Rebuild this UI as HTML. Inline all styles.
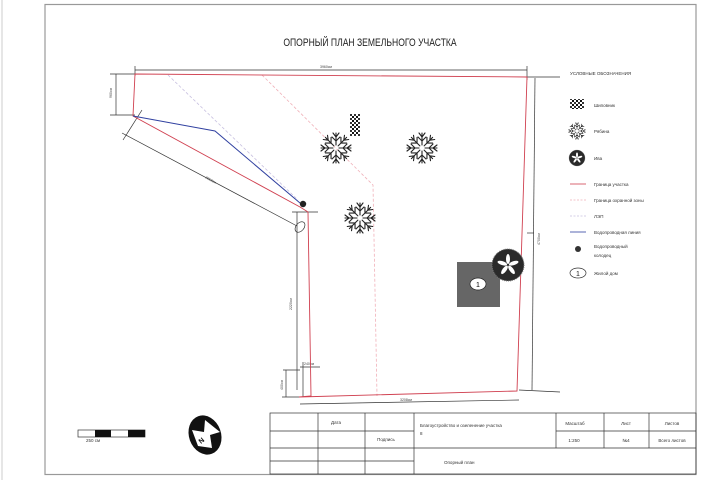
<!DOCTYPE html>
<html><head><meta charset="utf-8"><style>
html,body{margin:0;padding:0;background:#fff;}
svg{display:block;font-family:"Liberation Sans","DejaVu Sans",sans-serif;}
</style></head><body>
<svg width="720" height="480" viewBox="0 0 720 480" xmlns="http://www.w3.org/2000/svg">
<defs>
<g id="tree" stroke="#222" stroke-width="1.1" fill="none" stroke-linecap="round">
  <g id="br"><path d="M0,-3 L0,-15 M0,-7 L-4,-11 M0,-7 L4,-11 M0,-11 L-3,-15 M0,-11 L3,-15"/></g>
  <use href="#br" transform="rotate(45)"/><use href="#br" transform="rotate(90)"/>
  <use href="#br" transform="rotate(135)"/><use href="#br" transform="rotate(180)"/>
  <use href="#br" transform="rotate(225)"/><use href="#br" transform="rotate(270)"/>
  <use href="#br" transform="rotate(315)"/>
</g>
<g id="willow">
  <circle r="16" fill="#2a2a2a"/>
  <circle r="16" fill="none" stroke="#777" stroke-width="1" stroke-dasharray="1,1"/>
  <g fill="#fff"><ellipse cx="0" cy="-6" rx="2" ry="5"/><ellipse cx="0" cy="-6" rx="2" ry="5" transform="rotate(72)"/><ellipse cx="0" cy="-6" rx="2" ry="5" transform="rotate(144)"/><ellipse cx="0" cy="-6" rx="2" ry="5" transform="rotate(216)"/><ellipse cx="0" cy="-6" rx="2" ry="5" transform="rotate(288)"/></g>
</g>
<pattern id="qr" width="4" height="4" patternUnits="userSpaceOnUse"><rect width="4" height="4" fill="#fff"/><rect width="2" height="2" fill="#111"/><rect x="2" y="2" width="2" height="2" fill="#333"/></pattern>
</defs>

<line x1="2" y1="0" x2="2" y2="480" stroke="#ccc" stroke-width="1"/>
<rect x="45" y="4.5" width="651" height="470" fill="none" stroke="#999" stroke-width="1.2"/>

<text transform="translate(370,46) scale(0.78,1)" font-size="11" text-anchor="middle" fill="#222">ОПОРНЫЙ ПЛАН ЗЕМЕЛЬНОГО УЧАСТКА</text>

<polyline points="262,75 373,185 377,396" fill="none" stroke="#f0b0b8" stroke-width="0.8" stroke-dasharray="3,2"/>
<line x1="168" y1="75" x2="298" y2="200" stroke="#c8c0e0" stroke-width="0.8" stroke-dasharray="3,2"/>

<g stroke="#333" stroke-width="0.7" fill="none">
  <line x1="135" y1="70" x2="527" y2="70"/>
  <line x1="135" y1="66" x2="135" y2="76"/><line x1="527" y1="66" x2="527" y2="80"/>
  <line x1="110" y1="74" x2="135" y2="74"/><line x1="110" y1="115" x2="135" y2="115"/>
  <line x1="116" y1="74" x2="116" y2="115"/>
  <line x1="122" y1="133" x2="297" y2="226"/>
  <line x1="123" y1="140" x2="142" y2="110"/>
  <line x1="297" y1="212" x2="297" y2="390"/>
  <line x1="292" y1="212" x2="318" y2="212"/>
  <line x1="300" y1="367" x2="320" y2="367"/>
  <line x1="303" y1="362" x2="303" y2="397"/>
  <line x1="283" y1="370" x2="300" y2="370"/>
  <line x1="286" y1="370" x2="286" y2="397"/>
  <line x1="282" y1="397" x2="300" y2="397"/>
  <line x1="300" y1="404" x2="519" y2="400"/>
  <line x1="519" y1="390" x2="560" y2="392"/>
  <line x1="535" y1="78" x2="532" y2="390"/>
  <line x1="527" y1="77" x2="560" y2="77"/>
  <line x1="527" y1="233" x2="534" y2="233"/>
  <ellipse cx="300" cy="227" rx="4" ry="6" transform="rotate(40 300 227)"/>
</g>
<g font-size="3.5" fill="#444">
  <text x="320" y="68">3960см</text>
  <text x="112" y="98" transform="rotate(-90 112 98)">960см</text>
  <text x="205" y="178" transform="rotate(29 205 178)">3058см</text>
  <text x="292" y="310" transform="rotate(-90 292 310)">2220см</text>
  <text x="304" y="365">240см</text>
  <text x="283" y="390" transform="rotate(-90 283 390)">400см</text>
  <text x="400" y="401">3208см</text>
  <text x="540" y="245" transform="rotate(-90 540 245)">4700см</text>
</g>

<polygon points="135,74 527,77 517,391 299,397 311,396 308,212 300,207 133,116" fill="none" stroke="#d04050" stroke-width="0.9"/>
<polyline points="133,116 215,131 300,203" fill="none" stroke="#3040a0" stroke-width="1"/>
<circle cx="303" cy="204" r="3.2" fill="#222"/>

<rect x="350" y="114" width="10" height="22" fill="url(#qr)"/>
<use href="#tree" x="336" y="148"/>
<use href="#tree" x="422" y="148"/>
<use href="#tree" x="360" y="218"/>
<rect x="457" y="262" width="43" height="45" fill="#666"/>
<ellipse cx="478" cy="284" rx="8" ry="6" fill="#fff" stroke="#222" stroke-width="0.7"/>
<text x="478" y="287" font-size="7" text-anchor="middle">1</text>
<use href="#willow" x="508" y="265"/>

<g font-size="4.5" fill="#333">
  <text x="570" y="75">УСЛОВНЫЕ ОБОЗНАЧЕНИЯ</text>
  <rect x="570" y="99" width="14" height="10" fill="url(#qr)"/>
  <text x="594" y="107">Шиповник</text>
  <g transform="translate(577,131) scale(0.55)"><use href="#tree"/></g>
  <text x="594" y="133">Рябина</text>
  <g transform="translate(577,158) scale(0.5)"><use href="#willow"/></g>
  <text x="594" y="160">Ива</text>
  <line x1="570" y1="184" x2="586" y2="184" stroke="#d04050" stroke-width="0.8"/>
  <text x="594" y="186">Граница участка</text>
  <line x1="570" y1="200" x2="586" y2="200" stroke="#f0b0b8" stroke-width="0.8" stroke-dasharray="2,1.5"/>
  <text x="594" y="202">Граница охранной зоны</text>
  <line x1="570" y1="216" x2="586" y2="216" stroke="#c8c0e0" stroke-width="0.8" stroke-dasharray="2,1.5"/>
  <text x="594" y="218">ЛЭП</text>
  <line x1="570" y1="232" x2="586" y2="232" stroke="#3040a0" stroke-width="0.8"/>
  <text x="594" y="234">Водопроводная линия</text>
  <circle cx="578" cy="249" r="3" fill="#333"/>
  <text x="594" y="248">Водопроводный</text>
  <text x="594" y="257">колодец</text>
  <ellipse cx="578" cy="273" rx="8" ry="5" fill="#fff" stroke="#333" stroke-width="0.7"/>
  <text x="578" y="276" font-size="7" text-anchor="middle" fill="#222">1</text>
  <text x="594" y="275">Жилой дом</text>
</g>

<rect x="78" y="430" width="67" height="7" fill="#fff" stroke="#333" stroke-width="0.7"/>
<rect x="95" y="430" width="16" height="7" fill="#111"/>
<rect x="128" y="430" width="17" height="7" fill="#111"/>
<text x="86" y="442" font-size="4.5" fill="#333">250 см</text>

<ellipse cx="205" cy="435" rx="16" ry="20" fill="#111" transform="rotate(-20 205 435)"/>
<polygon points="198,446 192,430 204,432 205,420 220,432 210,435 212,448" fill="#fff"/>
<text x="201" y="444" font-size="7" font-weight="bold" fill="#111" transform="rotate(-40 201 444)">N</text>

<g stroke="#333" stroke-width="0.7" fill="none">
  <rect x="270" y="413" width="426" height="61"/>
  <line x1="318" y1="413" x2="318" y2="474"/>
  <line x1="365" y1="413" x2="365" y2="474"/>
  <line x1="414" y1="413" x2="414" y2="474"/>
  <line x1="556" y1="413" x2="556" y2="448"/>
  <line x1="604" y1="413" x2="604" y2="448"/>
  <line x1="649" y1="413" x2="649" y2="448"/>
  <line x1="270" y1="431" x2="414" y2="431"/>
  <line x1="556" y1="431" x2="696" y2="431"/>
  <line x1="270" y1="448" x2="696" y2="448"/>
  <line x1="270" y1="461" x2="414" y2="461"/>
</g>
<g font-size="4.5" fill="#333">
  <text x="336" y="424" text-anchor="middle">Дата</text>
  <text x="386" y="441" text-anchor="middle">Подпись</text>
  <text x="420" y="427">Благоустройство и озеленение участка</text>
  <text x="420" y="435">8</text>
  <text x="444" y="464">Опорный план</text>
  <text x="575" y="425" text-anchor="middle">Масштаб</text>
  <text x="626" y="425" text-anchor="middle">Лист</text>
  <text x="672" y="425" text-anchor="middle">Листов</text>
  <text x="574" y="442" text-anchor="middle">1:250</text>
  <text x="626" y="442" text-anchor="middle">№4</text>
  <text x="672" y="442" text-anchor="middle">Всего листов</text>
</g>
</svg>
</body></html>
